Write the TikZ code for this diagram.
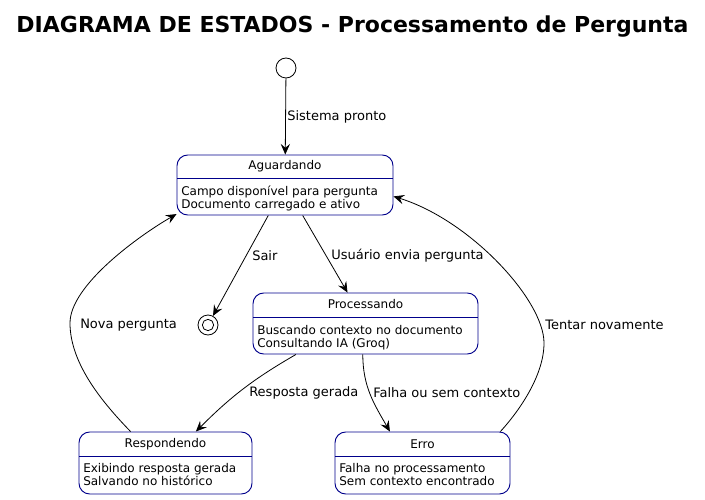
\documentclass[tikz,border=0pt]{standalone}
\usepackage{fontspec}
\setmainfont{DejaVu Sans}
\usetikzlibrary{arrows.meta}

\definecolor{stateblue}{RGB}{0,0,139}

\tikzset{
  statebox/.style={draw=stateblue, line width=0.7pt, rounded corners=8pt, rectangle, inner sep=0pt},
  stateline/.style={draw=stateblue, line width=0.7pt},
  statename/.style={font=\fontsize{9}{10}\selectfont, inner sep=0.75pt},
  statebody/.style={anchor=north west, align=left, font=\fontsize{9}{9.6}\selectfont, inner sep=0.75pt},
  trans/.style={draw=black, line width=0.6pt, -{Stealth[length=8pt,width=7pt,inset=3pt]}},
  translabel/.style={anchor=west, font=\fontsize{9.75}{11}\selectfont, inner sep=0.75pt}
}

\begin{document}
\begin{tikzpicture}[x=0.75pt,y=0.75pt,yscale=-1,xscale=1]
\useasboundingbox (0,0) rectangle (705,499);

% Title
\node[font=\fontsize{16.5}{18}\bfseries\selectfont] (titulo) at (352.5,27) {DIAGRAMA DE ESTADOS - Processamento de Pergunta};

% Initial and final states
\node[circle, draw, line width=0.6pt, minimum size=15pt, inner sep=0pt] (inicio) at (286,68) {};
\node[circle, draw, line width=0.6pt, minimum size=15pt, inner sep=0pt] (fim) at (208,325) {};
\node[circle, draw, line width=0.6pt, minimum size=8.5pt, inner sep=0pt] (fimin) at (208,325) {};

% State: Aguardando
\node[statebox, minimum width=162pt, minimum height=45pt] (agu) at (285,185) {};
\draw[stateline] (177,178) -- (393,178);
\node[statename] (aguname) at (285,166.5) {Aguardando};
\node[statebody] (agubody) at (180,185) {Campo disponível para pergunta\\Documento carregado e ativo};

% State: Processando
\node[statebox, minimum width=168.75pt, minimum height=45.75pt] (proc) at (365.5,323.5) {};
\draw[stateline] (253,317) -- (478,317);
\node[statename] (procname) at (365.5,304.5) {Processando};
\node[statebody] (procbody) at (256,324) {Buscando contexto no documento\\Consultando IA (Groq)};

% State: Respondendo
\node[statebox, minimum width=129.75pt, minimum height=46.5pt] (resp) at (165.5,463) {};
\draw[stateline] (79,456) -- (252,456);
\node[statename] (respname) at (165.5,444) {Respondendo};
\node[statebody] (respbody) at (82,462.5) {Exibindo resposta gerada\\Salvando no histórico};

% State: Erro
\node[statebox, minimum width=131.25pt, minimum height=46.5pt] (erro) at (422.5,463) {};
\draw[stateline] (335,456) -- (510,456);
\node[statename] (erroname) at (422.5,444) {Erro};
\node[statebody] (errobody) at (338,462.5) {Falha no processamento\\Sem contexto encontrado};

% Transitions (y axis flipped, so out/in angles are mirrored)
\draw[trans] (inicio) -- (agu);
\draw[trans] (agu) -- (fim);
\draw[trans] (agu) -- (proc);
\draw[trans] (proc.204) to[out=150, in=-45] (resp.46);
\draw[trans] (proc.265) to[out=90, in=-120] (erro.136);
\draw[trans] (erro.22) .. controls (520,410) and (544,375) .. (544,343) .. controls (544,300) and (470,220) .. (agu.-6);
\draw[trans] (resp.138) .. controls (105,405) and (70,365) .. (70,323) .. controls (70,285) and (140,235) .. (agu.195);

% Transition labels
\node[translabel] (lblpronto) at (286,117) {Sistema pronto};
\node[translabel] (lblsair) at (251,256) {Sair};
\node[translabel] (lblenvia) at (330,256) {Usuário envia pergunta};
\node[translabel] (lblnova) at (79,325) {Nova pergunta};
\node[translabel] (lblresp) at (248,393) {Resposta gerada};
\node[translabel] (lblfalha) at (372,393) {Falha ou sem contexto};
\node[translabel] (lbltentar) at (544,325) {Tentar novamente};

\end{tikzpicture}
\end{document}
